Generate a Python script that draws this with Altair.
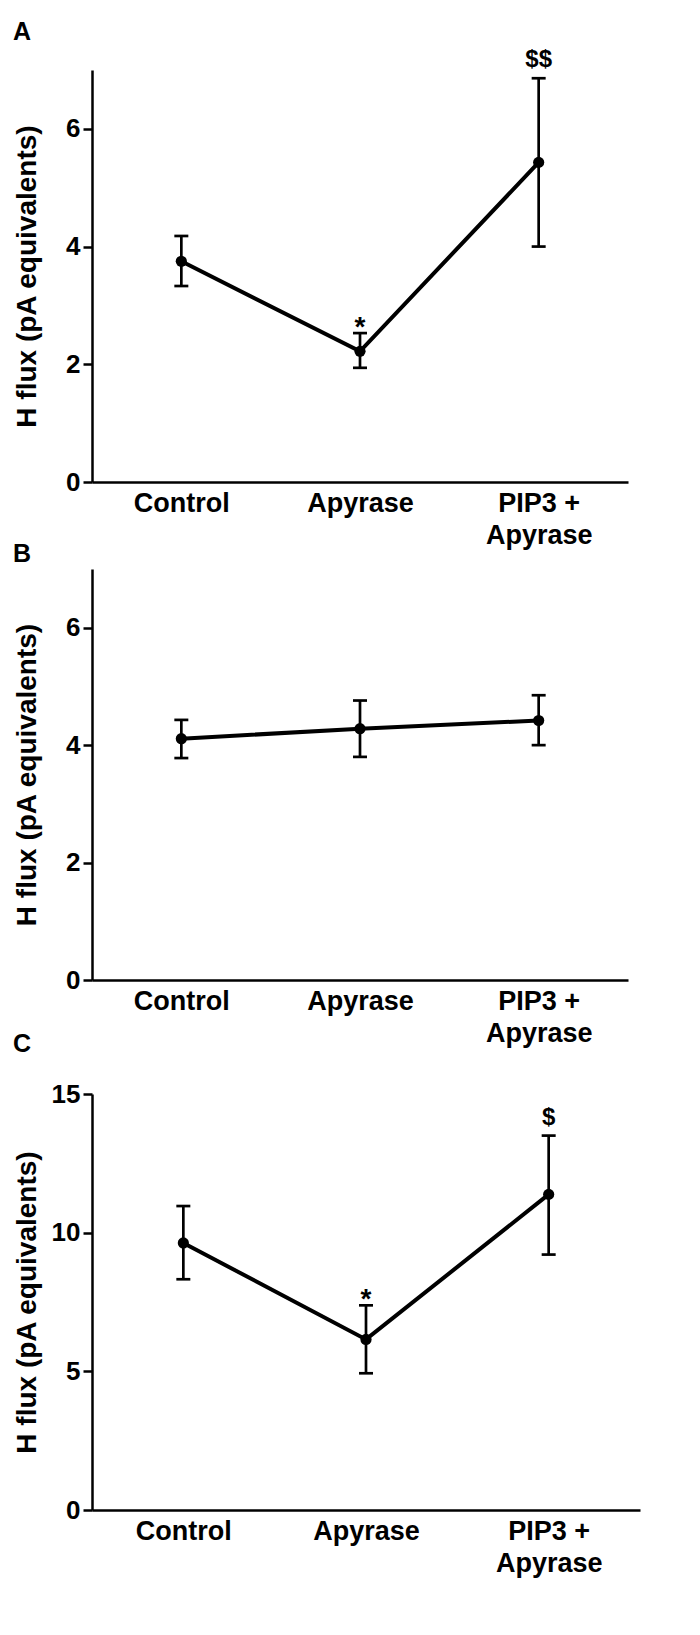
import altair as alt
import pandas as pd

FONT = "Liberation Sans"

categories = ["Control", "Apyrase", "PIP3 + Apyrase"]
y_title = "H flux (pA equivalents)"

# Panel A
a_mean = [3.75, 2.22, 5.43]
a_upper = [4.18, 2.53, 6.86]
a_lower = [3.33, 1.94, 4.00]
a_marks = ["", "*", "$$"]
a_ticks = [0, 2, 4, 6]

# Panel B
b_mean = [4.11, 4.28, 4.42]
b_upper = [4.43, 4.76, 4.85]
b_lower = [3.78, 3.80, 4.00]
b_marks = ["", "", ""]
b_ticks = [0, 2, 4, 6]

# Panel C
c_mean = [9.63, 6.15, 11.38]
c_upper = [10.96, 7.38, 13.50]
c_lower = [8.32, 4.93, 9.21]
c_marks = ["", "*", "$"]
c_ticks = [0, 5, 10, 15]


def panel(letter, mean, lower, upper, marks, ymax, ticks, width, height,
          title_pad, title_offset):
    df = pd.DataFrame({"group": categories, "mean": mean, "lower": lower,
                       "upper": upper, "mark": marks})
    x = alt.X(
        "group:N", sort=categories,
        scale=alt.Scale(type="point", padding=0.5),
        axis=alt.Axis(
            title=None, labelAngle=0, ticks=False, tickSize=0,
            labelExpr="datum.value == 'PIP3 + Apyrase' ? ['PIP3 +', 'Apyrase'] : datum.label",
            labelFont=FONT, labelFontSize=27, labelFontWeight="bold",
            labelColor="black", labelPadding=8, labelLineHeight=32,
            domainColor="black", domainWidth=2.5,
        ),
    )
    y_scale = alt.Scale(domain=[0, ymax], nice=False, zero=True)
    y_axis = alt.Axis(
        title=y_title, values=ticks, format="d", grid=False,
        labelFont=FONT, labelFontSize=26, labelFontWeight="bold",
        labelColor="black", labelPadding=3,
        tickColor="black", tickWidth=2.5, tickSize=9,
        domainColor="black", domainWidth=2.5,
        titleFont=FONT, titleFontSize=28, titleFontWeight="bold",
        titleColor="black", titlePadding=title_pad,
    )
    base = alt.Chart(df)
    line = base.mark_line(color="black", strokeWidth=4).encode(
        x=x, y=alt.Y("mean:Q", scale=y_scale, axis=y_axis))
    rule = base.mark_rule(color="black", strokeWidth=2.7).encode(
        x=x, y="lower:Q", y2="upper:Q")
    cap_up = base.mark_tick(color="black", thickness=2.7, size=14,
                            orient="horizontal", opacity=1).encode(x=x, y="upper:Q")
    cap_lo = base.mark_tick(color="black", thickness=2.7, size=14,
                            orient="horizontal", opacity=1).encode(x=x, y="lower:Q")
    pts = base.mark_circle(color="black", size=125, opacity=1).encode(
        x=x, y="mean:Q")
    star = base.transform_filter("datum.mark == '*'").mark_text(
        font=FONT, fontSize=28, fontWeight="bold", baseline="alphabetic",
        dy=3, color="black").encode(x=x, y="upper:Q", text="mark:N")
    dollar = base.transform_filter("indexof(datum.mark, '$') >= 0").mark_text(
        font=FONT, fontSize=24, fontWeight="bold", baseline="alphabetic",
        dy=-11, color="black").encode(x=x, y="upper:Q", text="mark:N")
    return alt.layer(line, rule, cap_up, cap_lo, pts, star, dollar).properties(
        width=width, height=height,
        title=alt.TitleParams(letter, anchor="start", frame="bounds",
                              font=FONT, fontSize=25, fontWeight="bold",
                              color="black", offset=title_offset),
    )


pa = panel("A", a_mean, a_lower, a_upper, a_marks, 7, a_ticks, 536, 412, 24.5, 3)
pb = panel("B", b_mean, b_lower, b_upper, b_marks, 7, b_ticks, 536, 411, 24.5, 2)
pc = panel("C", c_mean, c_lower, c_upper, c_marks, 15, c_ticks, 548, 416, 10, 24)

top = alt.vconcat(pa, pb, spacing=-6)
chart = alt.vconcat(top, pc, spacing=-14).properties(
    padding={"left": 5, "top": 12, "right": 5, "bottom": 5}
).configure_view(stroke=None)

chart.save("out.html", embed_options={"renderer": "svg", "actions": False})
